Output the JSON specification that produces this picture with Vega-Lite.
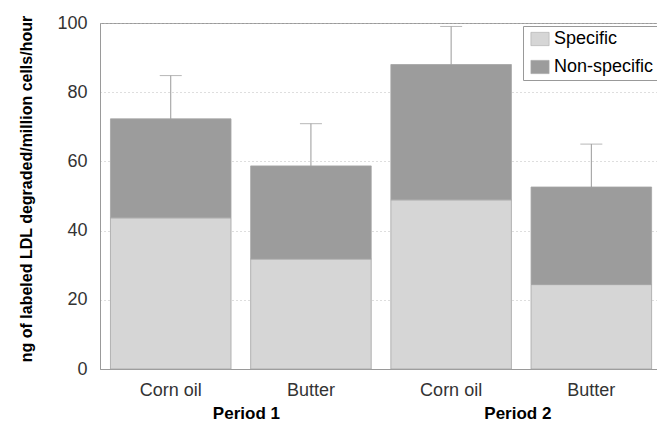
{
  "$schema": "https://vega.github.io/schema/vega-lite/v6.json",
  "width": 557,
  "height": 346,
  "autosize": {"type": "none"},
  "padding": {"left": 100, "top": 23, "right": 0, "bottom": 55},
  "background": "white",
  "config": {
    "font": "Liberation Sans",
    "view": {"stroke": "#9a9a9a", "strokeWidth": 1}
  },
  "datasets": {
    "bars": [
      {"bar": "P1 Corn oil", "type": "Specific", "value": 43.7},
      {"bar": "P1 Corn oil", "type": "Non-specific", "value": 28.6},
      {"bar": "P1 Butter", "type": "Specific", "value": 31.8},
      {"bar": "P1 Butter", "type": "Non-specific", "value": 26.9},
      {"bar": "P2 Corn oil", "type": "Specific", "value": 48.9},
      {"bar": "P2 Corn oil", "type": "Non-specific", "value": 39.1},
      {"bar": "P2 Butter", "type": "Specific", "value": 24.4},
      {"bar": "P2 Butter", "type": "Non-specific", "value": 28.2}
    ],
    "errors": [
      {"bar": "P1 Corn oil", "total": 72.3, "upper": 84.8},
      {"bar": "P1 Butter", "total": 58.7, "upper": 70.9},
      {"bar": "P2 Corn oil", "total": 88.0, "upper": 99.0},
      {"bar": "P2 Butter", "total": 52.6, "upper": 65.0}
    ],
    "periods": [
      {"period": "Period 1"},
      {"period": "Period 2"}
    ]
  },
  "layer": [
    {
      "layer": [
        {
          "data": {"name": "bars"},
          "mark": {"type": "bar", "stroke": "#a5a5a5", "strokeWidth": 0.8},
          "encoding": {
            "x": {
              "field": "bar",
              "type": "nominal",
              "sort": null,
              "scale": {"paddingInner": 0.14, "paddingOuter": 0.0565, "align": 0.66},
              "axis": {
                "title": null,
                "labelExpr": "slice(datum.label, 3)",
                "labelAngle": 0,
                "labelFontSize": 18,
                "labelColor": "#333333",
                "labelPadding": 12,
                "ticks": false,
                "domainColor": "#9a9a9a",
                "grid": false
              }
            },
            "y": {
              "field": "value",
              "type": "quantitative",
              "stack": "zero",
              "scale": {"domain": [0, 100], "nice": false},
              "axis": {
                "title": "ng of labeled LDL degraded/million cells/hour",
                "titleFontSize": 16,
                "titleFontWeight": "bold",
                "titleColor": "#000000",
                "titleX": -74,
                "titleY": 165.5,
                "titleBaseline": "middle",
                "values": [0, 20, 40, 60, 80, 100],
                "labelFontSize": 18,
                "labelColor": "#333333",
                "labelPadding": 13,
                "ticks": false,
                "domainColor": "#9a9a9a",
                "grid": true,
                "gridColor": "#bdbdbd",
                "gridDash": [1, 3]
              }
            },
            "color": {
              "field": "type",
              "type": "nominal",
              "scale": {"domain": ["Specific", "Non-specific"], "range": ["#d6d6d6", "#9c9c9c"]},
              "legend": {
                "title": null,
                "orient": "none",
                "legendX": 423,
                "legendY": 3,
                "labelFontSize": 18,
                "labelColor": "#000000",
                "symbolType": "M-1.3,-0.95H1.3V0.95H-1.3Z",
                "symbolSize": 196,
                "symbolStrokeColor": "#aaaaaa",
                "symbolStrokeWidth": 0.6,
                "padding": 4,
                "rowPadding": 10,
                "strokeColor": "#999999",
                "fillColor": "#ffffff",
                "labelOffset": 5,
                "symbolOffset": 4
              }
            },
            "order": {"field": "type", "sort": "descending"}
          }
        },
        {
          "data": {"name": "errors"},
          "mark": {"type": "rule", "color": "#999999", "strokeWidth": 1},
          "encoding": {
            "x": {"field": "bar", "type": "nominal", "sort": null},
            "y": {"field": "total", "type": "quantitative"},
            "y2": {"field": "upper"}
          }
        },
        {
          "data": {"name": "errors"},
          "mark": {"type": "tick", "color": "#999999", "thickness": 1, "size": 22},
          "encoding": {
            "x": {"field": "bar", "type": "nominal", "sort": null},
            "y": {"field": "upper", "type": "quantitative"}
          }
        }
      ]
    },
    {
      "data": {"name": "periods"},
      "mark": {"type": "point", "opacity": 0},
      "encoding": {
        "x": {
          "field": "period",
          "type": "nominal",
          "scale": {"type": "point", "padding": 0.526, "align": 0.511},
          "axis": {
            "orient": "bottom",
            "title": null,
            "domain": false,
            "ticks": false,
            "grid": false,
            "labelAngle": 0,
            "labelFontSize": 17,
            "labelFontWeight": "bold",
            "labelColor": "#000000",
            "labelPadding": 36
          }
        }
      }
    }
  ],
  "resolve": {"scale": {"x": "independent"}}
}
